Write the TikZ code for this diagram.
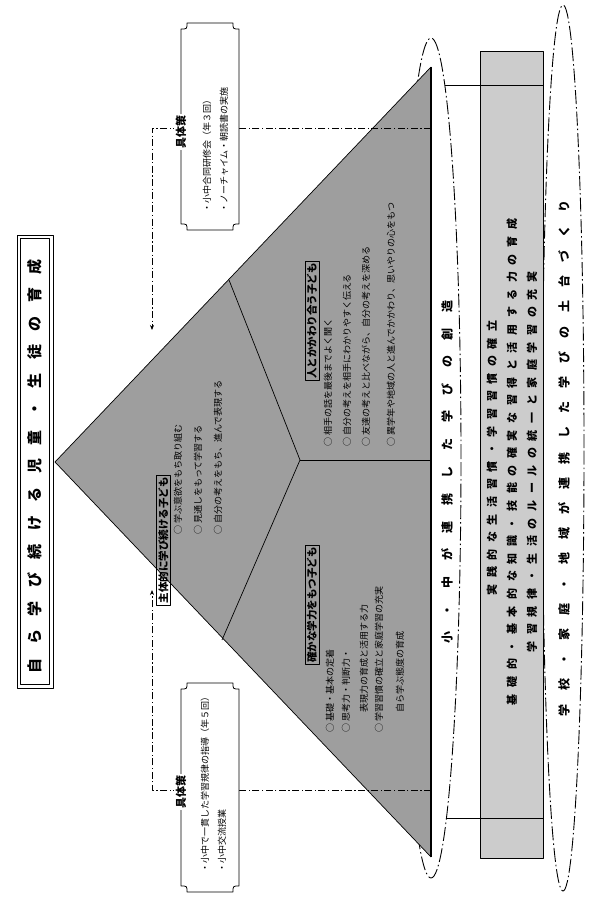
\documentclass[tikz,border=0pt]{standalone}
\usepackage{fontspec}
\usetikzlibrary{arrows.meta,shapes.geometric}
\newfontfamily\jp{Noto Sans CJK JP}
\tikzset{
  dd/.style={dash pattern=on 7pt off 2.5pt on 1.2pt off 2.5pt, line width=0.8pt},
  ell/.style={dash pattern=on 14pt off 3pt on 1.5pt off 3pt, line width=0.9pt},
  vt/.style={rotate=90, inner sep=0pt, anchor=west, font=\jp\fontsize{9}{9}\selectfont},
  ttlbox/.style={rotate=90, draw, line width=0.7pt, inner sep=2pt, font=\jp\bfseries\fontsize{10.5}{10.5}\selectfont},
  bigt/.style={rotate=90, inner sep=0pt, font=\jp\bfseries\fontsize{12}{12}\selectfont},
  gbox/.style={line width=0.8pt, fill=white},
  glabel/.style={rotate=90, fill=white, inner sep=1.5pt, font=\jp\bfseries\fontsize{11}{11}\selectfont},
}
\newcommand\gubox[4]{%
  \path[gbox,draw] (#1,#2+6) .. controls (#1+6,#2+6) .. (#1+6,#2) -- (#3-6,#2)
    .. controls (#3-6,#2+6) .. (#3,#2+6) -- (#3,#4-6)
    .. controls (#3-6,#4-6) .. (#3-6,#4) -- (#1+6,#4)
    .. controls (#1+6,#4-6) .. (#1,#4-6) -- cycle;}
\begin{document}
\begin{tikzpicture}[x=1pt,y=-1pt,line join=round]
\useasboundingbox (0,0) rectangle (589,899);
\fill[white] (0,0) rectangle (589,899);

% ---- title
\draw[line width=0.9pt] (17,235) rectangle (53,688);
\draw[line width=0.9pt] (20.5,238.5) rectangle (49.5,684.5);
\node[rotate=90, inner sep=0pt, font=\jp\bfseries\fontsize{15}{15}\selectfont] (title) at (35,466)
      {\addfontfeatures{LetterSpace=90}自ら学び続ける児童・生徒の育成};

% ---- bottom ellipse and rectangle
\node[ellipse, draw, ell, minimum width=42pt, minimum height=886pt, inner sep=0pt] (e2) at (563,448) {};
\node[bigt, font=\jp\bfseries\fontsize{12}{12}\selectfont] (e2t) at (564,458)
      {\addfontfeatures{LetterSpace=110}学校・家庭・地域が連携した学びの土台づくり};
\node[draw, line width=1pt, fill=black!20, minimum width=806pt, minimum height=63pt,
      rotate=90, inner sep=0pt] (rect) at (511.5,455) {};
\node[bigt, font=\jp\bfseries\fontsize{11}{11}\selectfont] (r1) at (492,458)
      {\addfontfeatures{LetterSpace=60}実践的な生活習慣・学習習慣の確立};
\node[bigt, font=\jp\bfseries\fontsize{11}{11}\selectfont] (r2) at (512,462)
      {\addfontfeatures{LetterSpace=60}基礎的・基本的な知識・技能の確実な習得と活用する力の育成};
\node[bigt, font=\jp\bfseries\fontsize{11}{11}\selectfont] (r3) at (532,462)
      {\addfontfeatures{LetterSpace=60}学習規律・生活のルールの統一と家庭学習の充実};

% ---- ellipse around base
\node[ellipse, draw, ell, minimum width=60pt, minimum height=840pt, inner sep=0pt] (e1) at (431,458) {};
\coordinate (c1a) at (445,85);
\coordinate (c1b) at (447,818);
\draw[line width=0.8pt] (c1a) -- (rect.south west |- c1a);
\draw[line width=0.8pt] (c1b) -- (rect.south west |- c1b);
\node[bigt, font=\jp\bfseries\fontsize{12}{12}\selectfont] (e1t) at (447,472)
      {\addfontfeatures{LetterSpace=130}小・中が連携した学びの創造};

% ---- pyramid
\coordinate (apex) at (55,462);
\coordinate (bt) at (431,67);
\coordinate (bb) at (431,857);
\coordinate (su) at (229,280);
\coordinate (sl) at (222,640);
\coordinate (jn) at (300,460);
\coordinate (bm) at (431,460);
\fill[black!38] (apex) -- (bt) -- (bb) -- cycle;
\draw[line width=0.7pt] (bt) -- (apex) -- (bb);
\draw[line width=1.2pt] (bt) -- (bb);
\draw[line width=0.7pt] (su) -- (jn) -- (sl);
\draw[line width=0.7pt] (jn) -- (bm);

% apex region
\node[ttlbox, anchor=north] (t1) at (156,540) {主体的に学び続ける子ども};
\node[vt] (a1) at (178,535) {○ 学ぶ意欲をもち取り組む};
\node[vt] (a2) at (198,535) {○ 見通しをもって学習する};
\node[vt] (a3) at (218,535) {○ 自分の考えをもち、進んで表現する};

% upper-right region
\node[ttlbox] (t2) at (312,321) {人とかかわり合う子ども};
\node[vt] (b1) at (328,447) {○ 相手の話を最後までよく聞く};
\node[vt] (b2) at (347,447) {○ 自分の考えを相手にわかりやすく伝える};
\node[vt] (b3) at (366,447) {○ 友達の考えと比べながら、自分の考えを深める};
\node[vt] (b4) at (391,447) {○ 異学年や地域の人と進んでかかわり、思いやりの心をもつ};

% lower region
\node[ttlbox] (t3) at (312,605) {確かな学力をもつ子ども};
\node[vt] (c1) at (330,733) {○ 基礎・基本の定着};
\node[vt] (c2) at (346,733) {○ 思考力・判断力・};
\node[vt] (c2b) at (364,713) {表現力の育成と活用する力};
\node[vt] (c3) at (379,733) {○ 学習習慣の確立と家庭学習の充実};
\node[vt] (c3b) at (400,713) {自ら学ぶ態度の育成};

% ---- connectors to the side boxes
\coordinate (p1) at (431,128);
\coordinate (k1) at (152,128);
\coordinate (q1) at (152,330);
\coordinate (p2) at (431,790);
\coordinate (k2) at (152,790);
\coordinate (q2) at (152,590);
\draw[dd, -{Stealth[length=5pt,width=4pt]}] (p1) -- (k1) -- (q1);
\draw[dd, -{Stealth[length=5pt,width=4pt]}] (p2) -- (k2) -- (q2);

% ---- right (upper) box
\gubox{181}{23}{239}{230}
\node[glabel] (g1) at (181,132) {具体策};
\node[vt] (g1a) at (207,213) {・小中合同研修会（年３回）};
\node[vt] (g1b) at (224,213) {・ノーチャイム・朝読書の実施};

% ---- left (lower) box
\gubox{181}{683}{239}{892}
\node[glabel] (g2) at (181,792) {具体策};
\node[vt] (g2a) at (205,873) {・小中で一貫した学習規律の指導（年５回）};
\node[vt] (g2b) at (222,873) {・小中交流授業};
\end{tikzpicture}
\end{document}
